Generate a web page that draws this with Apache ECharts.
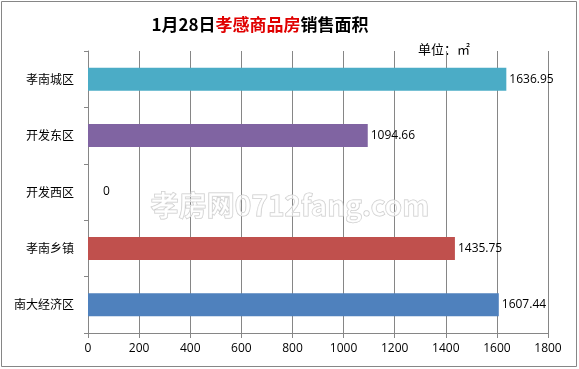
<!DOCTYPE html>
<html><head><meta charset="utf-8">
<script src="https://cdn.jsdelivr.net/npm/echarts@6/dist/echarts.min.js"></script>
<style>html,body{margin:0;padding:0;background:#fff}#c{width:579px;height:369px}</style>
</head><body><div id="c"></div>
<script>
var categories = ['南大经济区', '孝南乡镇', '开发西区', '开发东区', '孝南城区'];
var values = [1607.44, 1435.75, 0, 1094.66, 1636.95];
var barColors = ['#4f81bd', '#c0504d', '#9bbb59', '#8064a2', '#4bacc6'];
var xTicks = [0, 200, 400, 600, 800, 1000, 1200, 1400, 1600, 1800];

var chart = echarts.init(document.getElementById('c'), null, {renderer: 'canvas'});
var cjk = '"Noto Sans CJK SC", sans-serif';
var num = '"Open Sans", "Noto Sans", sans-serif';
chart.setOption({
  animation: false,
  backgroundColor: '#fff',
  grid: {left: 88, right: 31, top: 51, bottom: 36, containLabel: false},
  xAxis: {
    type: 'value', min: xTicks[0], max: xTicks[xTicks.length - 1], interval: 200,
    axisLine: {show: true, lineStyle: {color: '#868686', width: 1}},
    axisTick: {show: true, length: 5, lineStyle: {color: '#868686'}},
    axisLabel: {color: '#000', fontSize: 12, fontFamily: num, margin: 10,
      formatter: function (v) { return String(v); }},
    splitLine: {show: true, lineStyle: {color: '#868686', width: 1}}
  },
  yAxis: {
    type: 'category', data: categories,
    axisLine: {show: true, lineStyle: {color: '#868686'}},
    axisTick: {show: true, length: 4, lineStyle: {color: '#868686'}},
    axisLabel: {color: '#000', fontSize: 12, fontFamily: cjk, margin: 14}
  },
  series: [{
    type: 'bar', barWidth: 23,
    data: values.map(function (v, i) {
      var d = {value: v, itemStyle: {color: barColors[i]}};
      if (v === 0) d.label = {distance: 15};
      return d;
    }),
    label: {show: true, position: 'right', distance: 3, color: '#000', fontSize: 12, fontFamily: num,
      formatter: function (p) { return p.value === 0 ? '0' : p.value.toFixed(2); }}
  }],
  graphic: [
    {type: 'rect', shape: {x: 1.5, y: 1.5, width: 575, height: 365}, style: {fill: 'none', stroke: '#868686', lineWidth: 1}, z: -1},
    {type: 'text', x: 290, y: 205, z: 10, style: {text: '孝房网0712fang.com', fill: 'rgba(255,255,255,0.6)', stroke: '#c8c8c8', lineWidth: 1, font: 'bold 28px "Noto Sans CJK SC"', textAlign: 'center', textVerticalAlign: 'middle'}},
    {type: 'text', x: 260, y: 25, style: {rich: {b: {fill: '#000', font: 'bold 17px "Noto Sans CJK SC"'}, r: {fill: '#e00000', font: 'bold 17px "Noto Sans CJK SC"'}},
      text: '{b|1月28日}{r|孝感商品房}{b|销售面积}', textAlign: 'center', textVerticalAlign: 'middle'}},
    {type: 'text', x: 418, y: 49, style: {text: '单位：㎡', fill: '#000', font: '13px "Noto Sans CJK SC"', textAlign: 'left', textVerticalAlign: 'middle'}}
  ]
});
</script></body></html>
